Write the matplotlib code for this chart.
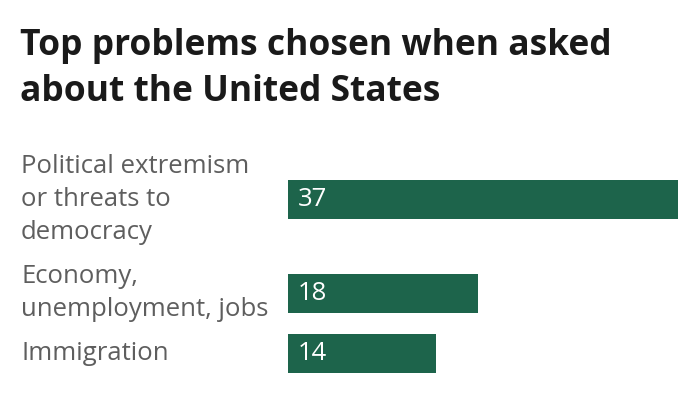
import matplotlib
matplotlib.use("Agg")
import matplotlib.pyplot as plt
import matplotlib.transforms as mtrans

title = "Top problems chosen when asked\nabout the United States"
categories = ["Political extremism\nor threats to\ndemocracy",
              "Economy,\nunemployment, jobs",
              "Immigration"]
values = [37, 18, 14]

bar_color = "#1d644b"
text_color = "#5e5e5e"
plt.rcParams['font.family'] = ['Open Sans', 'DejaVu Sans']

W, H = 700, 394
fig = plt.figure(figsize=(W / 100, H / 100), dpi=100)

# vertical layout in "line units"
line_px = 34.0
gap = 0.26
top_px = 148.5
centers = []
cur = 0.0
for c in categories:
    n = c.count("\n") + 1
    centers.append(cur + n / 2)
    cur += n + gap

bottom_units = (H - top_px) / line_px
ax = fig.add_axes([288 / W, 0, 390 / W, (H - top_px) / H])
ax.set_xlim(0, 37)
ax.set_ylim(bottom_units, 0)
ax.axis("off")

ax.barh(centers, values, height=39 / line_px, color=bar_color)

for y, v in zip(centers, values):
    ax.text(0.9, y, str(v), color="white", fontsize=18.5, va="center", ha="left")

tr = mtrans.blended_transform_factory(fig.transFigure, ax.transData)
for y, c in zip(centers, categories):
    fig.text(21 / W, y, c, transform=tr, fontsize=18.5, color=text_color,
             va="center", ha="left", linespacing=1.42)

fig.text(20 / W, 1 - 28 / H, title, fontsize=25.5, fontweight="bold",
         color="#1a1a1a", va="top", ha="left", linespacing=1.36)

fig.savefig("out.png", dpi=100)
